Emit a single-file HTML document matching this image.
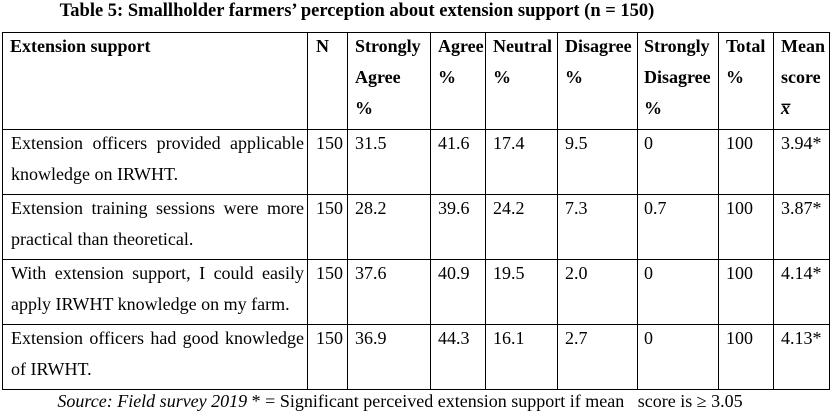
<!DOCTYPE html>
<html><head><meta charset="utf-8"><style>
body{margin:0;width:836px;height:415px;background:#fff;font-family:"Liberation Serif",serif;color:#000;position:relative;overflow:hidden}
#title{position:absolute;top:1px;left:0;width:714px;text-align:center;font-weight:bold;font-size:18.5px;white-space:nowrap}
table{position:absolute;left:2px;top:32px;width:827px;border-collapse:collapse;font-size:18px;table-layout:fixed}
td{border:1px solid #000;vertical-align:top;padding:0 0 0 7px;line-height:31px;box-sizing:border-box;white-space:nowrap;overflow:visible}
td div{position:relative;top:-2px}
.h td{font-weight:bold;height:97px}
.r td{height:65px}
.j{text-align:justify;text-align-last:left;padding-left:8px;padding-right:3px;white-space:normal}
.n{padding-left:8px}
.t{padding-left:6px}
#foot{position:absolute;top:389px;left:0;width:800px;text-align:center;font-size:18px;line-height:24px;white-space:nowrap}
</style></head><body>
<div id="title">Table 5: Smallholder farmers’ perception about extension support (n = 150)</div>
<table>
<colgroup><col style="width:305px"><col style="width:40px"><col style="width:83px"><col style="width:55px"><col style="width:72px"><col style="width:80px"><col style="width:81px"><col style="width:55px"><col style="width:56px"></colgroup>
<tr class="h">
<td><div>Extension support</div></td><td class="n"><div>N</div></td><td><div>Strongly<br>Agree<br>%</div></td><td><div>Agree<br>%</div></td><td><div>Neutral<br>%</div></td><td><div>Disagree<br>%</div></td><td class="t"><div>Strongly<br>Disagree<br>%</div></td><td><div>Total<br>%</div></td><td><div>Mean<br>score<br><i>x̅</i></div></td>
</tr>
<tr class="r">
<td class="j"><div>Extension officers provided applicable knowledge on IRWHT.</div></td><td class="n"><div>150</div></td><td><div>31.5</div></td><td><div>41.6</div></td><td><div>17.4</div></td><td><div>9.5</div></td><td class="t"><div>0</div></td><td><div>100</div></td><td><div>3.94*</div></td>
</tr>
<tr class="r">
<td class="j"><div>Extension training sessions were more practical than theoretical.</div></td><td class="n"><div>150</div></td><td><div>28.2</div></td><td><div>39.6</div></td><td><div>24.2</div></td><td><div>7.3</div></td><td class="t"><div>0.7</div></td><td><div>100</div></td><td><div>3.87*</div></td>
</tr>
<tr class="r">
<td class="j"><div>With extension support, I could easily apply IRWHT knowledge on my farm.</div></td><td class="n"><div>150</div></td><td><div>37.6</div></td><td><div>40.9</div></td><td><div>19.5</div></td><td><div>2.0</div></td><td class="t"><div>0</div></td><td><div>100</div></td><td><div>4.14*</div></td>
</tr>
<tr class="r">
<td class="j"><div>Extension officers had good knowledge of IRWHT.</div></td><td class="n"><div>150</div></td><td><div>36.9</div></td><td><div>44.3</div></td><td><div>16.1</div></td><td><div>2.7</div></td><td class="t"><div>0</div></td><td><div>100</div></td><td><div>4.13*</div></td>
</tr>
</table>
<div id="foot"><i>Source: Field survey 2019</i> * = Significant perceived extension support if mean &nbsp; score is ≥ 3.05</div>
</body></html>
